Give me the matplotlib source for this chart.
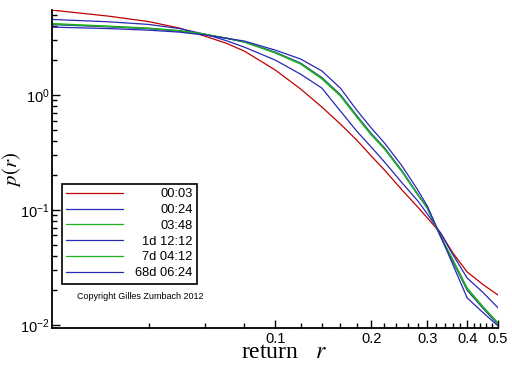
import matplotlib
matplotlib.use('Agg')
import matplotlib.pyplot as plt
import matplotlib.ticker as mticker
import numpy as np

# return grid (x axis)
r = [0.02, 0.03, 0.04, 0.05, 0.06, 0.07, 0.08, 0.10, 0.12, 0.14, 0.16, 0.18,
     0.20, 0.22, 0.25, 0.28, 0.30, 0.33, 0.36, 0.40, 0.45, 0.50]

# p(r) for each time horizon
p_0003 = [5.48, 4.86, 4.36, 3.83, 3.26, 2.83, 2.41, 1.65, 1.13, 0.786, 0.56, 0.406,
          0.295, 0.223, 0.149, 0.106, 0.0852, 0.0631, 0.0426, 0.0289, 0.0223, 0.0182]
p_0024 = [4.55, 4.34, 4.12, 3.79, 3.39, 2.98, 2.61, 2.015, 1.52, 1.15, 0.726, 0.486,
          0.353, 0.262, 0.172, 0.120, 0.0923, 0.0631, 0.0413, 0.0256, 0.0190, 0.0141]
p_0348 = [4.19, 3.98, 3.83, 3.64, 3.39, 3.13, 2.89, 2.32, 1.86, 1.38, 0.98, 0.644,
          0.449, 0.339, 0.214, 0.135, 0.104, 0.0595, 0.0375, 0.0210, 0.0143, 0.0104]
p_1d = [4.10, 3.92, 3.78, 3.60, 3.37, 3.12, 2.90, 2.36, 1.90, 1.42, 1.01, 0.665,
        0.463, 0.348, 0.219, 0.137, 0.104, 0.0585, 0.0360, 0.0200, 0.0138, 0.0101]
p_7d = [4.15, 3.95, 3.80, 3.62, 3.38, 3.13, 2.90, 2.34, 1.88, 1.40, 0.995, 0.655,
        0.455, 0.343, 0.216, 0.136, 0.104, 0.0590, 0.0368, 0.0205, 0.0141, 0.0103]
p_68d = [3.90, 3.79, 3.67, 3.53, 3.33, 3.13, 2.95, 2.46, 2.06, 1.62, 1.15, 0.74,
         0.517, 0.383, 0.241, 0.149, 0.108, 0.0594, 0.0339, 0.0172, 0.0127, 0.0098]

labels = ['00:03', '00:24', '03:48', '1d 12:12', '7d 04:12', '68d 06:24']
colors = ['#c00000', '#2828b4', '#1eb41e', '#2828b4', '#1eb41e', '#2828b4']
series = [p_0003, p_0024, p_0348, p_1d, p_7d, p_68d]

x_major = [0.1, 0.2, 0.3, 0.4, 0.5]
x_minor = [0.04, 0.06, 0.08, 0.12, 0.14, 0.16, 0.18, 0.22, 0.24, 0.26, 0.28,
           0.32, 0.34, 0.36, 0.38, 0.42, 0.44, 0.46, 0.48]

plt.rcParams['mathtext.fontset'] = 'stix'

fig = plt.figure(figsize=(5.12, 3.66), dpi=100)
ax = fig.add_axes([0.1016, 0.1038, 0.8711, 0.8689])

for p, lab, col in zip(series, labels, colors):
    ax.plot(r, p, color=col, linewidth=0.9, label=lab)

ax.set_xscale('log')
ax.set_yscale('log')
ax.set_xlim(0.0199, 0.5)
ax.set_ylim(0.0094, 5.5)

ax.xaxis.set_major_locator(mticker.FixedLocator(x_major))
ax.xaxis.set_minor_locator(mticker.FixedLocator(x_minor))
ax.xaxis.set_major_formatter(mticker.FixedFormatter([str(v) for v in x_major]))
ax.xaxis.set_minor_formatter(mticker.NullFormatter())

ax.spines['top'].set_visible(False)
ax.spines['right'].set_visible(False)
ax.spines['left'].set_linewidth(1.3)
ax.spines['bottom'].set_linewidth(1.3)

ax.tick_params(which='major', direction='in', length=6, width=1, labelsize=10.5, pad=3)
ax.tick_params(which='minor', direction='in', length=3.5, width=1)
ax.tick_params(axis='y', which='major', pad=2)
for t in ax.get_xticklabels() + ax.get_yticklabels():
    t.set_family('Liberation Sans')

ax.set_xlabel('return   $r$', family='Liberation Serif', fontsize=17, va='baseline')
ax.xaxis.set_label_coords(0.52, -0.094)
ax.set_ylabel('$p(r)$', fontsize=15)
ax.yaxis.set_label_coords(-0.066, 0.5)

leg = ax.legend(loc='upper left', bbox_to_anchor=(0.0224, 0.4528), frameon=True,
                fancybox=False, edgecolor='black', framealpha=1,
                prop={'family': 'Liberation Sans', 'size': 9.3},
                handlelength=4.4, handletextpad=0.95, labelspacing=0.29,
                borderpad=0.33, borderaxespad=0)
leg.get_frame().set_linewidth(1.2)

# right-align the legend labels like the original
fig.canvas.draw()
renderer = fig.canvas.get_renderer()
widths = [t.get_window_extent(renderer).width for t in leg.get_texts()]
maxw = max(widths)
for t, w in zip(leg.get_texts(), widths):
    t.set_position((maxw - w, 0))

ax.text(0.197, 0.098, 'Copyright Gilles Zumbach 2012', transform=ax.transAxes,
        ha='center', va='center', fontsize=6.5, family='Liberation Sans')

fig.savefig('out.png', dpi=100)
